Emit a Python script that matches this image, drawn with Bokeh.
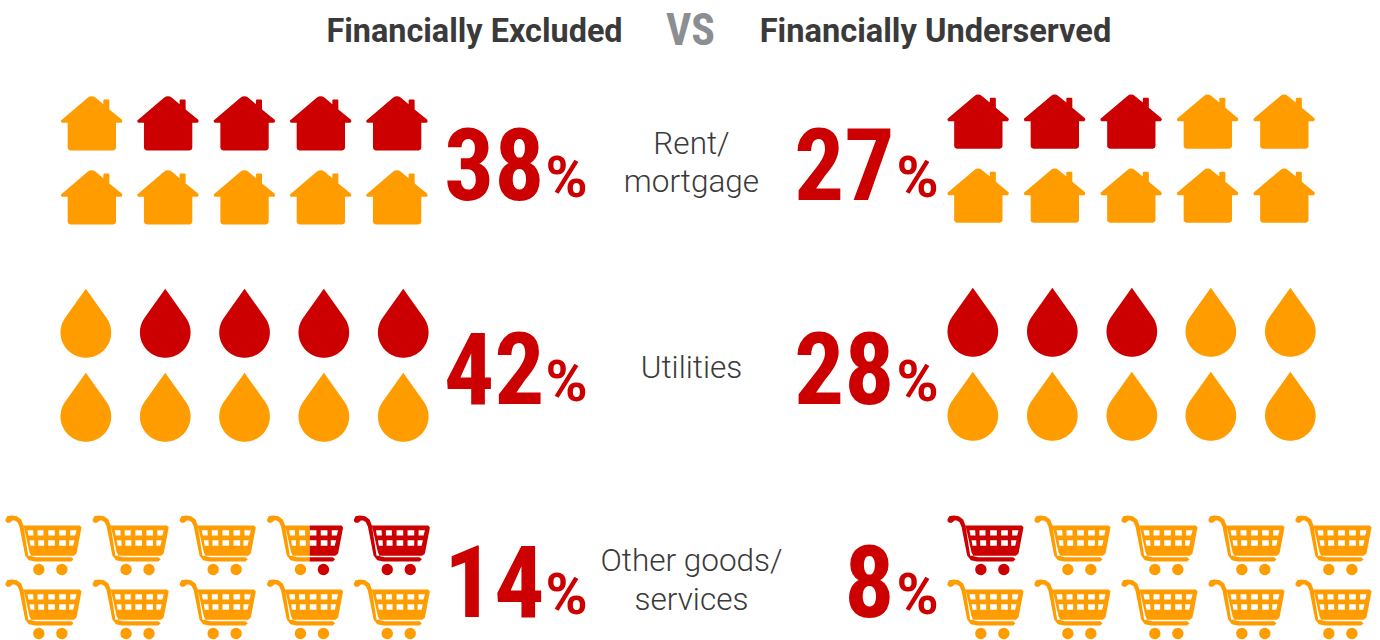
import numpy as np
from bokeh.plotting import figure
from bokeh.models import Range1d
from bokeh.core.properties import value
from bokeh.embed import file_html
from bokeh.resources import INLINE

# ---- data
groups = ["Financially Excluded", "Financially Underserved"]
versus = "VS"
categories = [["Rent/", "mortgage"], ["Utilities"], ["Other goods/", "services"]]
excluded_pct = [38, 42, 14]
underserved_pct = [27, 28, 8]
excluded_red_icons = [4, 4, 1.44]
underserved_red_icons = [3, 3, 1]

RED = "#cc0000"
ORANGE = "#ff9c00"
DARK = "#3a3a3a"
GREY = "#8b8e93"
HEAD = "Roboto"
NUM = "Roboto Condensed"
BODY = "Roboto Light, Roboto"

# ---- icon outlines (own units, 3 units = 1 px)
def arc(cx, cy, r, a0, a1, n=24):
    t = np.radians(np.linspace(a0, a1, n))
    return [(cx + r * np.cos(v), cy + r * np.sin(v)) for v in t]

house = [[[(0, 73), (80, 5), (86, 1), (92, 0), (98, 1), (104, 5), (127, 24), (127, 12), (129, 10),
           (143, 10), (145, 12), (145, 40), (183, 71), (184, 76), (181, 80), (165, 80), (165, 155),
           (163, 160), (157, 163), (28, 163), (22, 160), (20, 155), (20, 80), (3, 80), (0, 77)]]]

_a = np.degrees(np.arccos(76 / 131))
drop = [[[(76, 0)] + arc(76, 131, 76, -90 + _a, 270 - _a, 48)]]

_win = [
    [(66, 44), (83, 44), (84, 60), (69, 60)], [(96, 44), (114, 44), (114, 60), (96, 60)],
    [(128, 44), (148, 44), (148, 60), (128, 60)], [(161, 44), (181, 44), (181, 60), (161, 60)],
    [(194, 44), (213, 44), (209, 60), (194, 60)],
    [(72, 74), (86, 74), (87, 91), (75, 91)], [(98, 74), (116, 74), (116, 91), (98, 91)],
    [(128, 74), (148, 74), (148, 91), (128, 91)], [(161, 74), (181, 74), (181, 91), (161, 91)],
    [(191, 74), (207, 74), (203, 91), (191, 91)],
]
cart = [
    [[(54, 30), (223, 30), (228, 36), (213, 114), (205, 121), (68, 121), (54, 30)]] + _win,
    [[(0, 12), (5, 2), (18, 0), (34, 2), (47, 12), (54, 30), (72, 110), (78, 122), (92, 125),
      (197, 125), (204, 131), (197, 138), (88, 138), (70, 134), (59, 120), (42, 34), (36, 20),
      (28, 15), (21, 15), (13, 22), (5, 22), (0, 17)]],
    [arc(100, 162, 17, 0, 360, 30)],
    [arc(169, 162, 17, 0, 360, 30)],
]

def clip(ring, c, keep_left):
    out = []
    inside = (lambda x: x <= c) if keep_left else (lambda x: x >= c)
    for i, a in enumerate(ring):
        b = ring[(i + 1) % len(ring)]
        if inside(a[0]):
            out.append(a)
        if inside(a[0]) != inside(b[0]):
            t = (c - a[0]) / (b[0] - a[0])
            out.append((c, a[1] + t * (b[1] - a[1])))
    return out

def place(shape, x0, y0, cut=None, keep_left=True):
    mx, my = [], []
    for part in shape:
        rings = []
        for k, ring in enumerate(part):
            pts = [(x0 + x / 3, y0 + y / 3) for x, y in ring]
            if cut is not None:
                pts = clip(pts, cut, keep_left)
            if len(pts) >= 3:
                rings.append(pts)
            elif k == 0:
                break
        if rings:
            mx.append([[q[0] for q in r] for r in rings])
            my.append([[q[1] for q in r] for r in rings])
    return mx, my

p = figure(width=1380, height=640, x_range=Range1d(0, 1380), y_range=Range1d(640, 0),
           output_backend="svg", toolbar_location=None, min_border=0,
           x_axis_location=None, y_axis_location=None, outline_line_color=None)
p.grid.visible = False
p.background_fill_color = "white"
p.border_fill_color = "white"

store = {RED: ([], []), ORANGE: ([], [])}
def add(color, mx, my):
    if mx:
        store[color][0].append(mx)
        store[color][1].append(my)

def panel(shape, width, xs, ys, red, from_right):
    for r, y0 in enumerate(ys):
        for c, x0 in enumerate(xs):
            if r > 0:
                add(ORANGE, *place(shape, x0, y0))
                continue
            order = (len(xs) - 1 - c) if from_right else c
            f = min(max(red - order, 0), 1)
            if f >= 1:
                add(RED, *place(shape, x0, y0))
            elif f <= 0:
                add(ORANGE, *place(shape, x0, y0))
            else:
                cut = x0 + width * (1 - f) if from_right else x0 + width * f
                add(RED, *place(shape, x0, y0, cut, not from_right))
                add(ORANGE, *place(shape, x0, y0, cut, from_right))

# houses
panel(house, 61.5, [60.5, 136.8, 213.2, 289.5, 365.8], [95.7, 169.7], excluded_red_icons[0], True)
panel(house, 61.5, [947, 1023.5, 1100, 1176.5, 1253], [94, 168], underserved_red_icons[0], False)
# drops
panel(drop, 51, [60, 139.4, 218.7, 298, 377.4], [288.3, 372.3], excluded_red_icons[1], True)
panel(drop, 51, [947, 1026.5, 1106, 1185, 1264.5], [287.3, 371.3], underserved_red_icons[1], False)
# carts
panel(cart, 76, [5, 92.2, 179.3, 266.6, 353.4], [515, 579], excluded_red_icons[2], True)
panel(cart, 76, [947, 1034, 1121, 1208, 1295], [515, 579], underserved_red_icons[2], False)

for col in (ORANGE, RED):
    p.multi_polygons(xs=store[col][0], ys=store[col][1], fill_color=col, line_color=None)

BASELINE_SHIFT = 0.374

def txt(x, y, s, font, size, color, align="center", style="normal"):
    p.text(x=[x], y=[y - BASELINE_SHIFT * size], text=[s], text_font=value(font),
           text_font_size=f"{size}px", text_font_style=style, text_color=color,
           text_align=align, text_baseline="alphabetic")

# heading
txt(474, 43, groups[0], HEAD, 32.4, DARK, style="bold")
txt(935, 43, groups[1], HEAD, 32.6, DARK, style="bold")
txt(690, 46, versus, NUM, 44, GREY, style="bold")

# percentages
base = [201, 405, 618]
for i in range(3):
    txt(544, base[i], str(excluded_pct[i]), NUM, 99.5, RED, "right", "bold")
    txt(545, base[i] - 3, "%", HEAD, 57, RED, "left", "bold")
    txt(894, base[i], str(underserved_pct[i]), NUM, 99.5, RED, "right", "bold")
    txt(896, base[i] - 3, "%", HEAD, 57, RED, "left", "bold")

# labels
label_y = [[155, 193], [379], [572, 611]]
for lines, ys in zip(categories, label_y):
    for s, y in zip(lines, ys):
        txt(691, y, s, BODY, 31.5, DARK)

open("out.html", "w").write(file_html(p, INLINE))
